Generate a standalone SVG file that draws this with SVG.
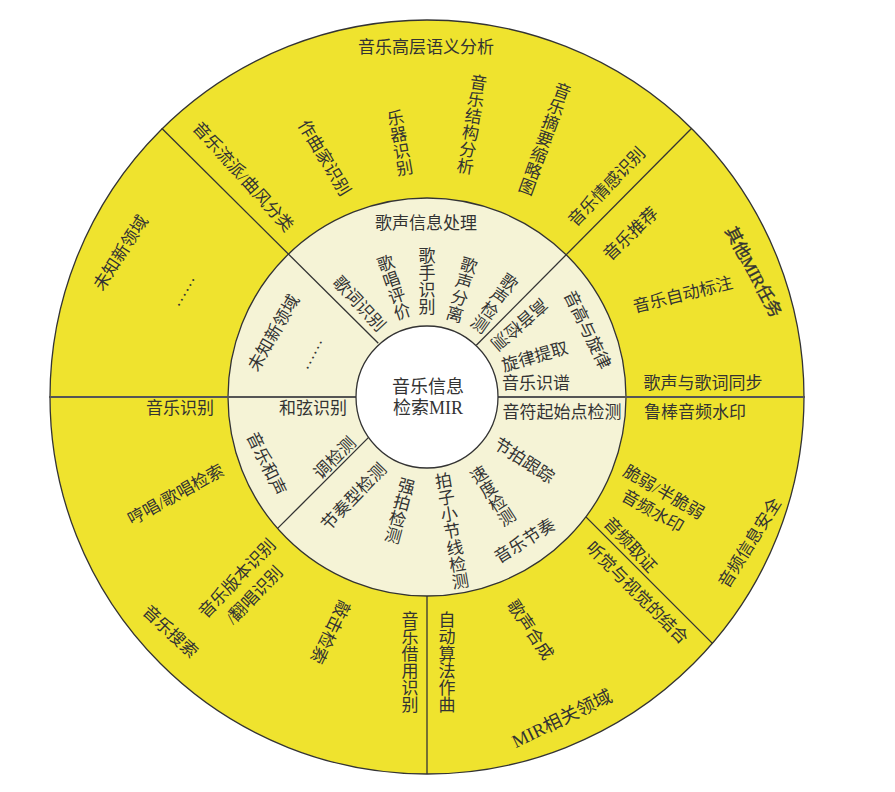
<svg xmlns="http://www.w3.org/2000/svg" width="895" height="792" viewBox="0 0 895 792">
<style>
.t{font-family:"Liberation Serif","Noto Sans CJK SC",serif;font-size:17px;fill:#333;text-anchor:middle;dominant-baseline:central}
.v{writing-mode:vertical-rl}
.b{stroke:#333;stroke-width:0.35}
.c{font-size:18px}
.ln{stroke:#333;stroke-width:1.3;fill:none}
.hz{stroke:#555;stroke-width:2;fill:none}
</style>
<rect width="895" height="792" fill="#fff"/>
<g id="rings">
<circle cx="427" cy="397" r="377" fill="#EFE32E" stroke="#333" stroke-width="1.3"/>
<circle cx="427" cy="397" r="199" fill="#F5F3D6" stroke="#333" stroke-width="1.3"/>
</g>
<g id="connectors">
<line class="ln" x1="161.7" y1="128.3" x2="378.3" y2="343.3"/>
<line class="ln" x1="691.7" y1="128.3" x2="476.3" y2="345.3"/>
<line class="hz" x1="49" y1="397" x2="360" y2="397"/>
<line class="hz" x1="494" y1="397" x2="805" y2="397"/>
<line class="ln" x1="368.6" y1="437.4" x2="277.6" y2="528.4"/>
<line class="ln" x1="585.9" y1="516.9" x2="712.4" y2="643.4"/>
<line class="ln" x1="427" y1="596" x2="427" y2="774"/>
</g>
<g id="center">
<circle cx="427" cy="397" r="71" fill="#fff" stroke="#333" stroke-width="1.3"/>
<text class="t c" x="428" y="387">音乐信息</text>
<text class="t c" x="428" y="408">检索MIR</text>
</g>
<g id="outer-semantic">
<text class="t" x="426" y="47">音乐高层语义分析</text>
<text class="t" x="243" y="177" transform="rotate(48 243 177)">音乐流派/曲风分类</text>
<text class="t" x="324" y="158" transform="rotate(59 324 158)">作曲家识别</text>
<text class="t v" x="398" y="143" transform="rotate(-10 398 143)">乐器识别</text>
<text class="t v" x="470" y="124" transform="rotate(9 470 124)">音乐结构分析</text>
<text class="t v" x="543" y="138" transform="rotate(20 543 138)">音乐摘要缩略图</text>
<text class="t" x="607" y="187" transform="rotate(-46 607 187)">音乐情感识别</text>
</g>
<g id="outer-other">
<text class="t b" x="753" y="272" transform="rotate(62 753 272)">其他MIR任务</text>
<text class="t" x="631" y="234" transform="rotate(-44 631 234)">音乐推荐</text>
<text class="t" x="683" y="295" transform="rotate(-14 683 295)">音乐自动标注</text>
<text class="t" x="703" y="383">歌声与歌词同步</text>
</g>
<g id="outer-security">
<text class="t" x="695" y="412">鲁棒音频水印</text>
<g transform="translate(658 502) rotate(30)">
<text class="t" x="0" y="-11">脆弱/半脆弱</text>
<text class="t" x="0" y="11">音频水印</text>
</g>
<text class="t" x="630" y="545" transform="rotate(47 630 545)">音频取证</text>
<text class="t" x="750" y="543" transform="rotate(-58 750 543)">音频信息安全</text>
</g>
<g id="outer-related">
<text class="t" x="637" y="593" transform="rotate(45 637 593)">听觉与视觉的结合</text>
<text class="t" x="530" y="630" transform="rotate(56 530 630)">歌声合成</text>
<text class="t v" x="445" y="662">自动算法作曲</text>
<text class="t" x="562" y="719" style="font-size:18.5px" transform="rotate(-26 562 719)">MIR相关领域</text>
</g>
<g id="outer-recognition">
<text class="t" x="180" y="408">音乐识别</text>
<text class="t" x="176" y="495" transform="rotate(-29 176 495)">哼唱/歌唱检索</text>
<g transform="translate(246 587) rotate(-46)">
<text class="t" x="0" y="-12">音乐版本识别</text>
<text class="t" x="0" y="12">/翻唱识别</text>
</g>
<text class="t" x="170" y="632" transform="rotate(43 170 632)">音乐搜索</text>
<text class="t" x="330" y="632" transform="rotate(116 330 632)">敲击检索</text>
<text class="t v" x="408" y="662">音乐借用识别</text>
</g>
<g id="outer-unknown">
<text class="t" x="121" y="253" transform="rotate(-57 121 253)">未知新领域</text>
<text class="t" x="182" y="290" transform="rotate(-60 182 290)">……</text>
</g>
<g id="mid-singing">
<text class="t" x="426" y="223">歌声信息处理</text>
<text class="t" x="359" y="304" transform="rotate(47 359 304)">歌词识别</text>
<text class="t v" x="392" y="288" transform="rotate(-19 392 288)">歌唱评价</text>
<text class="t v" x="425" y="281">歌手识别</text>
<text class="t v" x="460" y="289" transform="rotate(16 460 289)">歌声分离</text>
<text class="t v" x="493" y="302" transform="rotate(35 493 302)">歌声检测</text>
</g>
<g id="mid-pitch">
<text class="t" x="519" y="324" transform="rotate(139 519 324)">高音检测</text>
<text class="t" x="587" y="330" transform="rotate(64 587 330)">音高与旋律</text>
<text class="t" x="535" y="357" transform="rotate(-16 535 357)">旋律提取</text>
<text class="t" x="536" y="383">音乐识谱</text>
</g>
<g id="mid-rhythm">
<text class="t" x="562" y="412">音符起始点检测</text>
<text class="t" x="524" y="461" transform="rotate(33 524 461)">节拍跟踪</text>
<text class="t v" x="491" y="497" transform="rotate(-33 491 497)">速度检测</text>
<text class="t" x="525" y="541" transform="rotate(-32 525 541)">音乐节奏</text>
<text class="t v" x="450" y="531" transform="rotate(-9.5 450 531)">拍子小节线检测</text>
<text class="t v" x="398" y="510" transform="rotate(15 398 510)">强拍检测</text>
<text class="t" x="354" y="497" transform="rotate(-46 354 497)">节奏型检测</text>
</g>
<g id="mid-harmony">
<text class="t" x="313" y="408">和弦识别</text>
<text class="t" x="335" y="458" transform="rotate(-45 335 458)">调检测</text>
<text class="t" x="266" y="464" transform="rotate(64 266 464)">音乐和声</text>
</g>
<g id="mid-unknown">
<text class="t" x="274" y="333" transform="rotate(-60 274 333)">未知新领域</text>
<text class="t" x="310" y="353" transform="rotate(-62 310 353)">……</text>
</g>
</svg>
